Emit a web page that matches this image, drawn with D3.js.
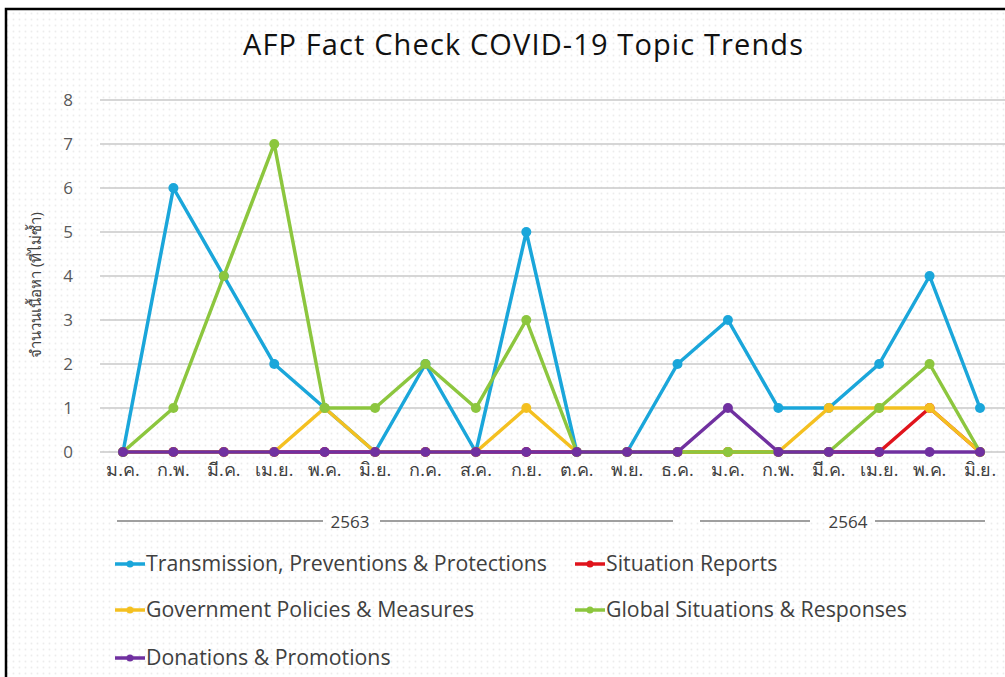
<!DOCTYPE html>
<html>
<head>
<meta charset="utf-8">
<script src="https://cdn.jsdelivr.net/npm/d3@7"></script>
<style>
  body { margin: 0; background: #fff; }
  text { font-family: "Open Sans", "Noto Sans", sans-serif; }
</style>
</head>
<body>
<svg id="chart" width="1005" height="677"></svg>
<script>
// month labels (Thai), 2563 Jan .. 2564 Jun
var months = ["ม.ค.", "ก.พ.", "มี.ค.", "เม.ย.", "พ.ค.", "มิ.ย.", "ก.ค.", "ส.ค.", "ก.ย.", "ต.ค.", "พ.ย.", "ธ.ค.",
              "ม.ค.", "ก.พ.", "มี.ค.", "เม.ย.", "พ.ค.", "มิ.ย."];
var yTicks = [0, 1, 2, 3, 4, 5, 6, 7, 8];

var transmission = [0, 6, 4, 2, 1, 0, 2, 0, 5, 0, 0, 2, 3, 1, 1, 2, 4, 1];
var situation    = [0, 0, 0, 0, 0, 0, 0, 0, 0, 0, 0, 0, 0, 0, 0, 0, 1, 0];
var government   = [0, 0, 0, 0, 1, 0, 0, 0, 1, 0, 0, 0, 0, 0, 1, 1, 1, 0];
var global       = [0, 1, 4, 7, 1, 1, 2, 1, 3, 0, 0, 0, 0, 0, 0, 1, 2, 0];
var donations    = [0, 0, 0, 0, 0, 0, 0, 0, 0, 0, 0, 0, 1, 0, 0, 0, 0, 0];

var seriesNames = ["Transmission, Preventions & Protections", "Situation Reports",
                   "Government Policies & Measures", "Global Situations & Responses",
                   "Donations & Promotions"];
var seriesColors = ["#1aa6da", "#e0141c", "#f4c020", "#8cc63e", "#7030a0"];
var seriesValues = [transmission, situation, government, global, donations];

var years = ["2563", "2564"];

var svg = d3.select("#chart");

// dotted background
var defs = svg.append("defs");
var pat = defs.append("pattern")
  .attr("id", "dots")
  .attr("width", 6).attr("height", 6)
  .attr("patternUnits", "userSpaceOnUse");
pat.append("rect").attr("width", 6).attr("height", 6).attr("fill", "#fff");
pat.append("circle").attr("cx", 1.5).attr("cy", 1.5).attr("r", 0.9).attr("fill", "#ececec");

svg.append("rect")
  .attr("x", 0).attr("y", 0)
  .attr("width", 1005).attr("height", 677)
  .attr("fill", "#fff");
svg.append("rect")
  .attr("x", 6).attr("y", 9)
  .attr("width", 1010).attr("height", 680)
  .attr("fill", "url(#dots)")
  .attr("stroke", "#000")
  .attr("stroke-width", 2.5);

// title
svg.append("text")
  .attr("x", 523).attr("y", 55)
  .attr("text-anchor", "middle")
  .attr("font-size", 29)
  .attr("fill", "#111")
  .attr("textLength", 560)
  .text("AFP Fact Check COVID-19 Topic Trends");

var x = d3.scalePoint()
  .domain(d3.range(months.length))
  .range([123, 980]);

var y = d3.scaleLinear()
  .domain([0, 8])
  .range([452, 100]);

// gridlines
svg.append("g")
  .selectAll("line")
  .data(yTicks)
  .enter()
  .append("line")
  .attr("x1", 100).attr("x2", 1005)
  .attr("y1", function (d) { return y(d); })
  .attr("y2", function (d) { return y(d); })
  .attr("stroke", "#c8c8c8")
  .attr("stroke-width", 1.3);

// y tick labels
svg.append("g")
  .selectAll("text")
  .data(yTicks)
  .enter()
  .append("text")
  .attr("x", 68)
  .attr("y", function (d) { return y(d) + 6; })
  .attr("text-anchor", "middle")
  .attr("font-size", 17)
  .attr("fill", "#595959")
  .text(function (d) { return d; });

// y axis title
svg.append("text")
  .attr("transform", "translate(41,285) rotate(-90)")
  .attr("text-anchor", "middle")
  .attr("font-size", 15)
  .attr("fill", "#404040")
  .text("จำนวนเนื้อหา (ที่ไม่ซ้ำ)");

// month labels
svg.append("g")
  .selectAll("text")
  .data(months)
  .enter()
  .append("text")
  .attr("x", function (d, i) { return x(i); })
  .attr("y", 476)
  .attr("text-anchor", "middle")
  .attr("font-size", 18)
  .attr("fill", "#404040")
  .text(function (d) { return d; });

// year group labels with rules
var yearInfo = [
  { label: years[0], cx: 350, lines: [[117, 323], [380, 673]] },
  { label: years[1], cx: 848, lines: [[700, 810], [875, 985]] }
];
yearInfo.forEach(function (yr) {
  svg.append("text")
    .attr("x", yr.cx).attr("y", 528)
    .attr("text-anchor", "middle")
    .attr("font-size", 17)
    .attr("fill", "#404040")
    .text(yr.label);
  yr.lines.forEach(function (l) {
    svg.append("line")
      .attr("x1", l[0]).attr("x2", l[1])
      .attr("y1", 521).attr("y2", 521)
      .attr("stroke", "#404040")
      .attr("stroke-width", 1.2);
  });
});

// series lines
var line = d3.line()
  .x(function (d, i) { return x(i); })
  .y(function (d) { return y(d); });

seriesValues.forEach(function (vals, s) {
  var g = svg.append("g");
  g.append("path")
    .datum(vals)
    .attr("d", line)
    .attr("fill", "none")
    .attr("stroke", seriesColors[s])
    .attr("stroke-width", 3.5)
    .attr("stroke-linejoin", "round");
  g.selectAll("circle")
    .data(vals)
    .enter()
    .append("circle")
    .attr("cx", function (d, i) { return x(i); })
    .attr("cy", function (d) { return y(d); })
    .attr("r", 5)
    .attr("fill", seriesColors[s]);
});

// legend
var legendPos = [[115, 564], [575, 564], [115, 610], [575, 610], [115, 658]];
seriesNames.forEach(function (name, s) {
  var p = legendPos[s];
  var g = svg.append("g").attr("transform", "translate(" + p[0] + "," + p[1] + ")");
  g.append("line")
    .attr("x1", 0).attr("x2", 30)
    .attr("y1", 0).attr("y2", 0)
    .attr("stroke", seriesColors[s])
    .attr("stroke-width", 3.5);
  g.append("circle")
    .attr("cx", 15).attr("cy", 0).attr("r", 3.5)
    .attr("fill", seriesColors[s]);
  g.append("text")
    .attr("x", 31).attr("y", 7)
    .attr("font-size", 21.3)
    .attr("fill", "#404040")
    .text(name);
});
</script>
</body>
</html>
